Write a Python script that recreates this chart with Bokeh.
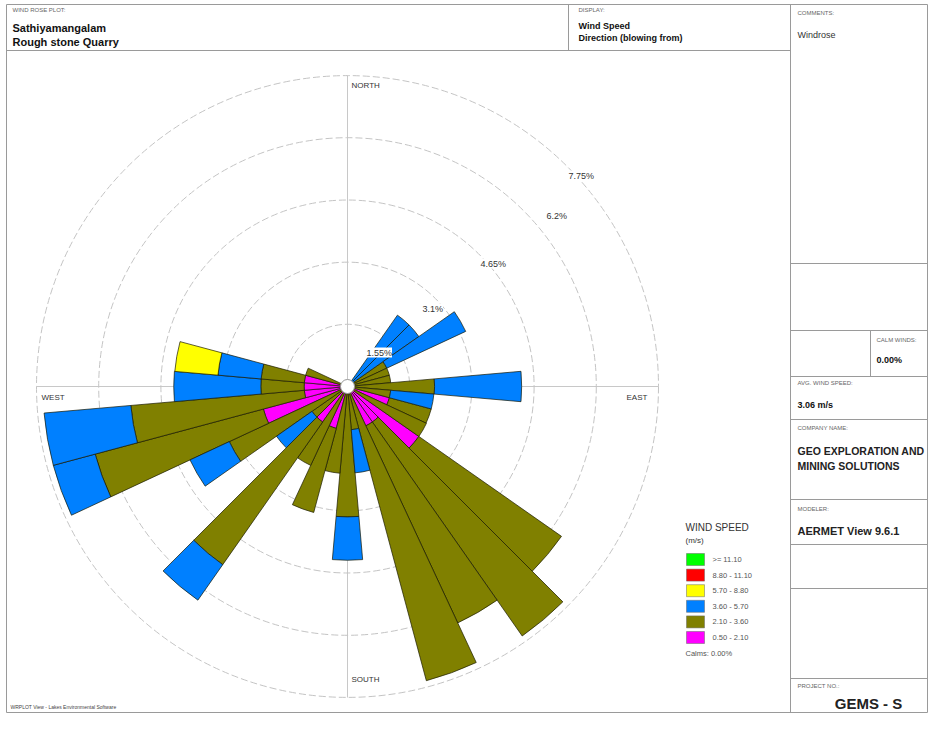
import math
from bokeh.plotting import figure
from bokeh.models import Label, Range1d
from bokeh.embed import file_html
from bokeh.resources import INLINE

# ---------------- data ----------------
directions = list(range(0, 360, 10))          # sector centres, degrees (blowing from)
ring_values = [1.55, 3.1, 4.65, 6.2, 7.75]    # % frequency rings
ring_labels = ["1.55%", "3.1%", "4.65%", "6.2%", "7.75%"]
class_labels = ["0.50 - 2.10", "2.10 - 3.60", "3.60 - 5.70", "5.70 - 8.80", "8.80 - 11.10", ">= 11.10"]
class_colors = ["#FF00FF", "#808000", "#0080FF", "#FFFF00", "#FF0000", "#00FF00"]

# percent frequency per sector, for each wind speed class (m/s)
s_050_210 = [0, 0, 0, 0, 0, 0, 0, 0, 0, 0,
             0, 1.08, 0, 2.17, 1.08, 1.08, 0, 0, 0, 0,
             1.08, 0, 1.08, 0, 0, 2.17, 1.08, 1.08, 1.08, 0,
             0, 0, 0, 0, 0, 0]
s_210_360 = [0, 0, 0, 0, 0, 0, 1.08, 1.08, 1.08, 2.17,
             1.08, 1.08, 2.17, 4.34, 6.51, 5.42, 7.59, 1.08, 3.25, 2.17,
             2.17, 2.17, 4.34, 1.08, 3.25, 4.34, 4.34, 1.08, 1.08, 1.08,
             0, 0, 0, 0, 0, 0]
s_360_570 = [0, 0, 0, 0, 2.17, 2.17, 2.17, 0, 0, 2.17,
             1.08, 0, 0, 0, 0, 0, 0, 1.08, 1.08, 0,
             0, 0, 1.08, 1.08, 1.08, 1.08, 2.17, 2.17, 1.08, 0,
             0, 0, 0, 0, 0, 0]
s_570_880 = [0] * 28 + [1.08] + [0] * 7
s_880_1110 = [0] * 36
s_ge_1110 = [0] * 36
speed_series = [s_050_210, s_210_360, s_360_570, s_570_880, s_880_1110, s_ge_1110]

# ---------------- layout helpers ----------------
W, H = 928, 713
def Y(y):
    return 729 - y

p = figure(width=W, height=H, x_range=Range1d(0, W), y_range=Range1d(Y(H), Y(0)),
           output_backend="svg", toolbar_location=None, min_border=0,
           x_axis_type=None, y_axis_type=None)
p.grid.visible = False
p.outline_line_color = None
p.background_fill_color = "white"

FONT = "Liberation Sans"
def lab(x, y, t, size="7px", bold=False, color="#222222", align="left", bg=None):
    kw = dict(x=x, y=Y(y), text=t, text_font=FONT, text_font_size=size,
              text_font_style="bold" if bold else "normal", text_color=color,
              text_align=align, text_baseline="middle")
    if bg:
        kw["background_fill_color"] = bg
    p.add_layout(Label(**kw))

# ---------------- frame ----------------
frame_col = "#9a9a9a"
RX = 927
BOT = 712
segs = [
    (6, 4, RX, 4), (6, BOT, RX, BOT), (6, 4, 6, BOT), (RX, 4, RX, BOT),
    (6, 50, 790, 50), (568, 4, 568, 50), (790, 4, 790, BOT),
    (790, 263, RX, 263), (790, 330, RX, 330), (870, 330, 870, 376),
    (790, 376, RX, 376), (790, 419, RX, 419), (790, 499, RX, 499),
    (790, 544, RX, 544), (790, 588, RX, 588), (790, 678, RX, 678),
]
p.segment(x0=[s[0] for s in segs], y0=[Y(s[1]) for s in segs],
          x1=[s[2] for s in segs], y1=[Y(s[3]) for s in segs],
          line_color=frame_col, line_width=1)

# header texts
lab(12, 9, "WIND ROSE PLOT:", "6px", color="#666666")
lab(12, 27, "Sathiyamangalam", "11px", True, "#111111")
lab(12, 41, "Rough stone Quarry", "11px", True, "#111111")
lab(578, 9, "DISPLAY:", "6px", color="#666666")
lab(578, 25, "Wind Speed", "9px", True, "#111111")
lab(578, 37, "Direction (blowing from)", "9px", True, "#111111")

# right panel texts
lab(797, 12, "COMMENTS:", "6px", color="#666666")
lab(797, 34, "Windrose", "9px", color="#333333")
lab(876, 339, "CALM WINDS:", "6px", color="#666666")
lab(876, 359, "0.00%", "9px", True, "#111111")
lab(797, 382, "AVG. WIND SPEED:", "6px", color="#666666")
lab(797, 404, "3.06 m/s", "9px", True, "#111111")
lab(797, 427, "COMPANY NAME:", "6px", color="#666666")
lab(797, 450, "GEO EXPLORATION AND", "10.5px", True, "#222222")
lab(797, 465, "MINING SOLUTIONS", "10.5px", True, "#222222")
lab(797, 508, "MODELER:", "6px", color="#666666")
lab(797, 530, "AERMET View 9.6.1", "11px", True, "#222222")
lab(797, 685, "PROJECT NO.:", "6px", color="#666666")
lab(868, 703, "GEMS - S", "15px", True, "#222222", align="center")
lab(10, 706, "WRPLOT View - Lakes Environmental Software", "5px", color="#444444")

# ---------------- wind rose ----------------
cx, cy = 347, Y(386)
scale = 311 / 7.75      # px per percent
R = ring_values[-1] * scale

# axis cross
p.segment(x0=[cx, cx - R], y0=[cy - R, cy], x1=[cx, cx + R], y1=[cy + R, cy],
          line_color="#c8c8c8", line_width=1)
# rings
p.circle(x=[cx] * len(ring_values), y=[cy] * len(ring_values),
         radius=[v * scale for v in ring_values], fill_color=None,
         line_color="#c4c4c4", line_width=1, line_dash="7 3")

# stacked sectors
cum = [0.0] * len(directions)
for series, col in zip(speed_series, class_colors):
    xs, ys, ri, ro, sa, ea = [], [], [], [], [], []
    for i, d in enumerate(directions):
        v = series[i]
        if v > 0:
            xs.append(cx); ys.append(cy)
            ri.append(cum[i] * scale); ro.append((cum[i] + v) * scale)
            sa.append(math.radians(90 - d - 5)); ea.append(math.radians(90 - d + 5))
            cum[i] += v
    if xs:
        p.annular_wedge(x=xs, y=ys, inner_radius=ri, outer_radius=ro,
                        start_angle=sa, end_angle=ea, fill_color=col,
                        line_color="#1a1a00", line_width=0.7)

# calm circle
p.circle(x=[cx], y=[cy], radius=7, fill_color="white", line_color="#999999", line_width=1)

# compass labels
lab(351, 85, "NORTH", "8px", color="#333333")
lab(351, 679, "SOUTH", "8px", color="#333333")
lab(41, 397, "WEST", "8px", color="#333333")
lab(626, 397, "EAST", "8px", color="#333333")

# ring labels
ring_pos = [(366, 352), (422, 308), (480, 263), (546, 215), (568, 175)]
for (x, y), t in zip(ring_pos, ring_labels):
    lab(x, y, t, "9px", color="#333333", bg="white")

# ---------------- legend ----------------
lab(685, 527, "WIND SPEED", "10px", color="#333333")
lab(685, 540, "(m/s)", "8px", color="#333333")
row0, dy = 559, 15.6
leg_order = list(range(len(class_labels)))[::-1]
bx, by, bcol = [], [], []
for k, ci in enumerate(leg_order):
    yy = row0 + k * dy
    bx.append(695); by.append(Y(yy)); bcol.append(class_colors[ci])
    lab(712, yy, class_labels[ci], "7.5px", color="#555555")
p.rect(x=bx, y=by, width=18, height=12, fill_color=bcol, line_color="#666666", line_width=0.5)
lab(685, row0 + 6 * dy, "Calms: 0.00%", "7.5px", color="#555555")

open("out.html", "w").write(file_html(p, INLINE))
